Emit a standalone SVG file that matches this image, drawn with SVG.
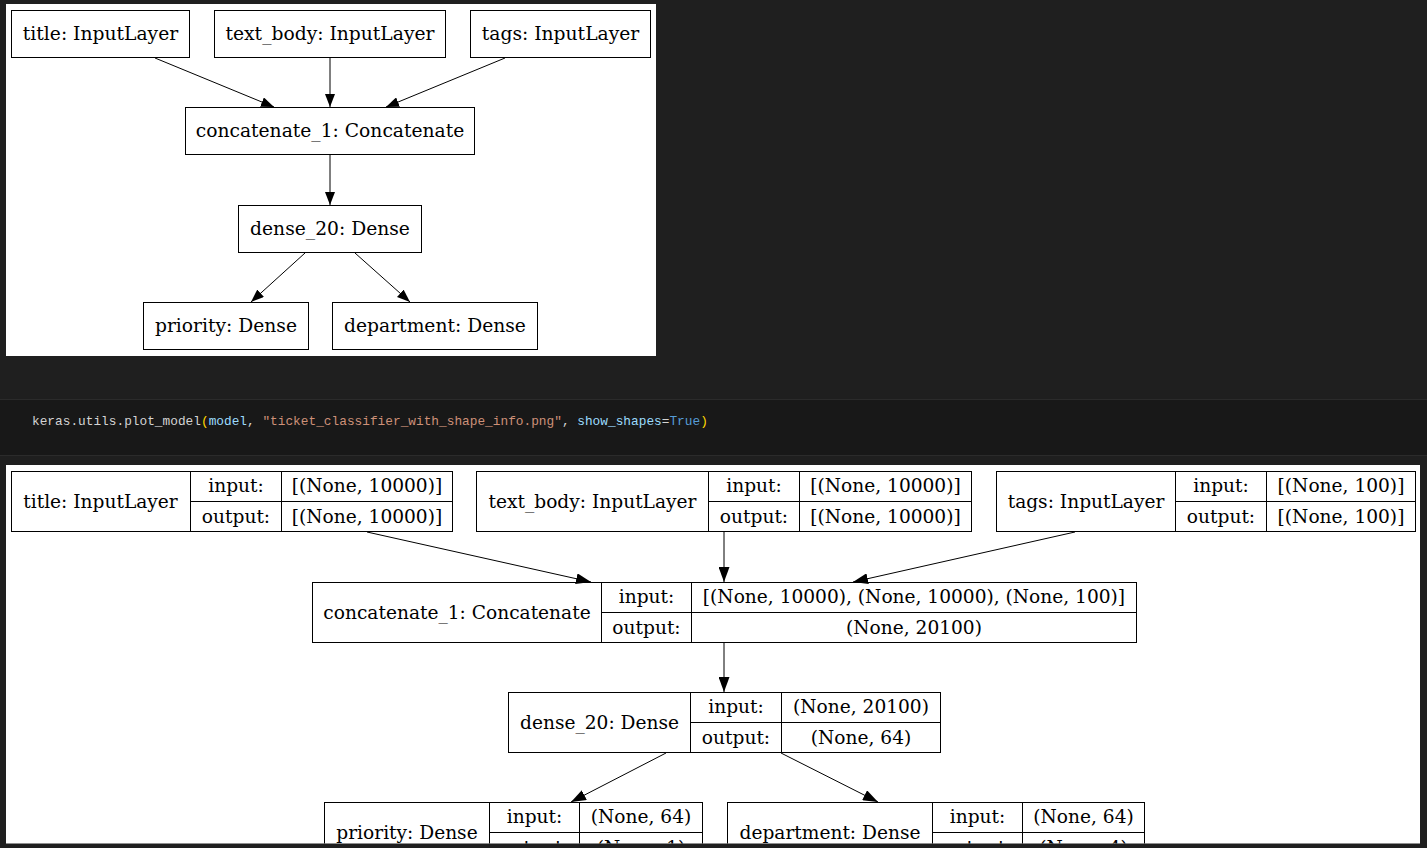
<svg xmlns="http://www.w3.org/2000/svg" width="1427" height="848" viewBox="0 0 1427 848">
<defs>
<style>
.bx{fill:none;stroke:#000;stroke-width:1}
.ln{fill:none;stroke:#000;stroke-width:1}
.t{font-family:"DejaVu Serif","Liberation Serif",serif;font-size:18.6px;fill:#000;text-anchor:middle}
.tt{font-family:"DejaVu Serif","Liberation Serif",serif;font-size:18.7px;fill:#000;text-anchor:middle}
.code{font-family:"Liberation Mono","DejaVu Sans Mono",monospace;font-size:12.8px}
</style>
<marker id="arr" markerUnits="userSpaceOnUse" markerWidth="15" markerHeight="11" refX="15" refY="5.5" orient="auto">
<path d="M0,0 L15,5.5 L0,11 Z" fill="#000"/>
</marker>
<marker id="arrS" markerUnits="userSpaceOnUse" markerWidth="13" markerHeight="10" refX="13" refY="5" orient="auto">
<path d="M0,0 L13,5 L0,10 Z" fill="#000"/>
</marker>
<clipPath id="clipB"><rect x="6" y="465" width="1414" height="378.5"/></clipPath>
</defs>
<rect x="0" y="0" width="1427" height="848" fill="#1f1f1f"/>
<rect x="0" y="399" width="1427" height="56" fill="#181818"/>
<line x1="0" y1="399.5" x2="1427" y2="399.5" stroke="#2b2b2b"/>
<line x1="0" y1="455.5" x2="1427" y2="455.5" stroke="#2b2b2b"/>

<!-- top panel -->
<rect x="6" y="4" width="650" height="352" fill="#fff"/>
<g id="top-connectors">
<path class="ln" d="M155,58 L274,107" marker-end="url(#arrS)"/>
<path class="ln" d="M330,58 L330,107" marker-end="url(#arrS)"/>
<path class="ln" d="M505,58 L386,107" marker-end="url(#arrS)"/>
<path class="ln" d="M330,155 L330,205" marker-end="url(#arrS)"/>
<path class="ln" d="M305,253 L251,302" marker-end="url(#arrS)"/>
<path class="ln" d="M355,253 L410,302" marker-end="url(#arrS)"/>
</g>
<g id="top-title"><rect class="bx" x="11.5" y="10.5" width="178" height="47"/><text class="tt" x="100.5" y="40">title: InputLayer</text></g>
<g id="top-text_body"><rect class="bx" x="214.5" y="10.5" width="231" height="47"/><text class="tt" x="330" y="40">text_body: InputLayer</text></g>
<g id="top-tags"><rect class="bx" x="470.5" y="10.5" width="180" height="47"/><text class="tt" x="560.5" y="40">tags: InputLayer</text></g>
<g id="top-concat"><rect class="bx" x="185.5" y="107.5" width="289" height="47"/><text class="tt" x="330" y="137">concatenate_1: Concatenate</text></g>
<g id="top-dense20"><rect class="bx" x="238.5" y="205.5" width="183" height="47"/><text class="tt" x="330" y="235">dense_20: Dense</text></g>
<g id="top-priority"><rect class="bx" x="143.5" y="302.5" width="165" height="47"/><text class="tt" x="226" y="332">priority: Dense</text></g>
<g id="top-department"><rect class="bx" x="332.5" y="302.5" width="205" height="47"/><text class="tt" x="435" y="332">department: Dense</text></g>

<!-- code line -->
<text class="code" x="32" y="425" xml:space="preserve"><tspan fill="#d4d4d4">keras.utils.plot_model</tspan><tspan fill="#ffd700">(</tspan><tspan fill="#9cdcfe">model</tspan><tspan fill="#d4d4d4">, </tspan><tspan fill="#ce9178">"ticket_classifier_with_shape_info.png"</tspan><tspan fill="#d4d4d4">, </tspan><tspan fill="#9cdcfe">show_shapes</tspan><tspan fill="#d4d4d4">=</tspan><tspan fill="#569cd6">True</tspan><tspan fill="#ffd700">)</tspan></text>

<!-- bottom panel -->
<rect x="6" y="465" width="1414" height="378.5" fill="#fff"/>
<g clip-path="url(#clipB)">
<g id="connectors">
<path class="ln" d="M367,532 L591,582" marker-end="url(#arr)"/>
<path class="ln" d="M724,532 L724,582" marker-end="url(#arr)"/>
<path class="ln" d="M1075,532 L853,582" marker-end="url(#arr)"/>
<path class="ln" d="M724,643 L724,692" marker-end="url(#arr)"/>
<path class="ln" d="M666,753 L571,802" marker-end="url(#arr)"/>
<path class="ln" d="M781,753 L878,802" marker-end="url(#arr)"/>
</g>
<g id="title">
<rect class="bx" x="11.5" y="471.5" width="441" height="60"/>
<path class="ln" d="M190.5,471.5 V531.5 M281.5,471.5 V531.5 M190.5,501.5 H452.5"/>
<text class="t" x="100.5" y="508">title: InputLayer</text>
<text class="t" x="236" y="492">input:</text><text class="t" x="236" y="522.5">output:</text>
<text class="t" x="367" y="492">[(None, 10000)]</text><text class="t" x="367" y="522.5">[(None, 10000)]</text>
</g>
<g id="text_body">
<rect class="bx" x="476.5" y="471.5" width="495" height="60"/>
<path class="ln" d="M708.5,471.5 V531.5 M799.5,471.5 V531.5 M708.5,501.5 H971.5"/>
<text class="t" x="592.5" y="508">text_body: InputLayer</text>
<text class="t" x="754" y="492">input:</text><text class="t" x="754" y="522.5">output:</text>
<text class="t" x="885.5" y="492">[(None, 10000)]</text><text class="t" x="885.5" y="522.5">[(None, 10000)]</text>
</g>
<g id="tags">
<rect class="bx" x="996.5" y="471.5" width="419" height="60"/>
<path class="ln" d="M1175.5,471.5 V531.5 M1266.5,471.5 V531.5 M1175.5,501.5 H1415.5"/>
<text class="t" x="1086" y="508">tags: InputLayer</text>
<text class="t" x="1221" y="492">input:</text><text class="t" x="1221" y="522.5">output:</text>
<text class="t" x="1341" y="492">[(None, 100)]</text><text class="t" x="1341" y="522.5">[(None, 100)]</text>
</g>
<g id="concatenate_1">
<rect class="bx" x="312.5" y="582.5" width="824" height="60"/>
<path class="ln" d="M601.5,582.5 V642.5 M691.5,582.5 V642.5 M601.5,612.5 H1136.5"/>
<text class="t" x="457" y="619">concatenate_1: Concatenate</text>
<text class="t" x="646.5" y="603">input:</text><text class="t" x="646.5" y="633.5">output:</text>
<text class="t" x="914" y="603">[(None, 10000), (None, 10000), (None, 100)]</text><text class="t" x="914" y="633.5">(None, 20100)</text>
</g>
<g id="dense_20">
<rect class="bx" x="508.5" y="692.5" width="432" height="60"/>
<path class="ln" d="M690.5,692.5 V752.5 M781.5,692.5 V752.5 M690.5,722.5 H940.5"/>
<text class="t" x="599.5" y="729">dense_20: Dense</text>
<text class="t" x="736" y="713">input:</text><text class="t" x="736" y="743.5">output:</text>
<text class="t" x="861" y="713">(None, 20100)</text><text class="t" x="861" y="743.5">(None, 64)</text>
</g>
<g id="priority">
<rect class="bx" x="324.5" y="802.5" width="378" height="60"/>
<path class="ln" d="M489.5,802.5 V862.5 M579.5,802.5 V862.5 M489.5,832.5 H702.5"/>
<text class="t" x="407" y="839">priority: Dense</text>
<text class="t" x="534.5" y="823">input:</text><text class="t" x="534.5" y="853.5">output:</text>
<text class="t" x="641" y="823">(None, 64)</text><text class="t" x="641" y="853.5">(None, 1)</text>
</g>
<g id="department">
<rect class="bx" x="727.5" y="802.5" width="417" height="60"/>
<path class="ln" d="M932.5,802.5 V862.5 M1022.5,802.5 V862.5 M932.5,832.5 H1144.5"/>
<text class="t" x="830" y="839">department: Dense</text>
<text class="t" x="977.5" y="823">input:</text><text class="t" x="977.5" y="853.5">output:</text>
<text class="t" x="1083.5" y="823">(None, 64)</text><text class="t" x="1083.5" y="853.5">(None, 4)</text>
</g>
</g>
</svg>
